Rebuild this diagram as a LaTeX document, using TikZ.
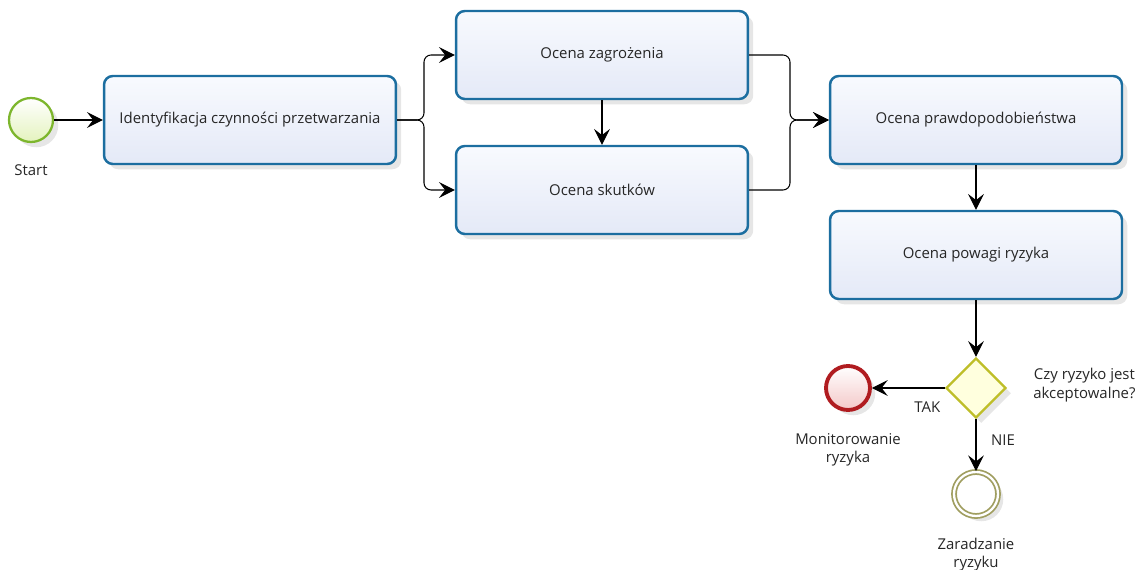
\documentclass[tikz,border=0pt]{standalone}
\usepackage{fontspec}
\setmainfont{Open Sans}
\usetikzlibrary{arrows.meta, shapes.geometric, shadows}

\definecolor{taskline}{RGB}{28,110,160}
\definecolor{tasktop}{RGB}{248,250,254}
\definecolor{taskbot}{RGB}{228,233,247}
\definecolor{startline}{RGB}{125,182,45}
\definecolor{startfill}{RGB}{228,243,190}
\definecolor{stopline}{RGB}{176,28,32}
\definecolor{stopfill}{RGB}{244,200,200}
\definecolor{fixline}{RGB}{160,158,96}
\definecolor{gateline}{RGB}{190,190,40}
\definecolor{gatefill}{RGB}{255,255,222}

\begin{document}
\begin{tikzpicture}[
		x=0.02cm, y=-0.02cm,
		every node/.style={font=\fontsize{8.5}{10.5}\selectfont, text=black!85},
		shade/.style={drop shadow={opacity=0.2, shadow xshift=3pt, shadow yshift=-3pt}},
		task/.style={rectangle, rounded corners=5pt, draw=taskline, line width=1.4pt,
			top color=tasktop, bottom color=taskbot, minimum width=5.84cm, minimum height=1.76cm, shade},
		event/.style={circle, minimum size=0.88cm, inner sep=0pt, line width=1.3pt, shade},
		flow/.style={-{Stealth[length=9pt, width=9pt, inset=3.5pt]}, line width=0.6pt},
		every label/.append style={align=center, label distance=0.3cm}
	]
  \useasboundingbox (0,0) rectangle (1140,570);
  \node (start) [event, draw=startline, top color=white, bottom color=startfill, label=below:Start] at (31, 120) {};
  \node (ident) [task] at (250, 120) {Identyfikacja czynności przetwarzania};
  \node (zagr) [task] at (602, 55) {Ocena zagrożenia};
  \node (skut) [task] at (602, 190) {Ocena skutków};
  \node (prawd) [task] at (976, 120) {Ocena prawdopodobieństwa};
  \node (powaga) [task] at (976, 255) {Ocena powagi ryzyka};
  \node (gate) [diamond, draw=gateline, fill=gatefill, line width=1.3pt, minimum size=1.2cm, inner sep=0pt, shade,
    label={[label distance=0.4cm, yshift=0.06cm]right:Czy ryzyko jest\\akceptowalne?}] at (976, 388) {};
  \node (monit) [event, draw=stopline, line width=2.2pt, top color=white, bottom color=stopfill,
    label=below:Monitorowanie\\ryzyka] at (848, 388) {};
  \node (zarad) [event, draw=fixline, line width=1pt, double=white, double distance=1.3pt, fill=white,
    label=below:Zaradzanie\\ryzyku] at (976, 494) {};
  \coordinate (split) at (424, 120);
  \coordinate (join) at (790, 120);
  \draw [flow] (start) -- (ident);
  \draw [flow, rounded corners=4pt] (ident.east) -- (split) |- (zagr.west);
  \draw [flow, rounded corners=4pt] (ident.east) -- (split) |- (skut.west);
  \draw [flow] (zagr) -- (skut);
  \draw [flow, rounded corners=4pt] (zagr.east) -| (join) -- (prawd.west);
  \draw [flow, rounded corners=4pt] (skut.east) -| (join) -- (prawd.west);
  \draw [flow] (prawd) -- (powaga);
  \draw [flow] (powaga) -- (gate);
  \draw [flow] (gate) -- node [below=4pt, pos=0.24] {TAK} (monit);
  \draw [flow] (gate) -- node [right=5pt, pos=0.4] {NIE} (zarad);
\end{tikzpicture}
\end{document}
